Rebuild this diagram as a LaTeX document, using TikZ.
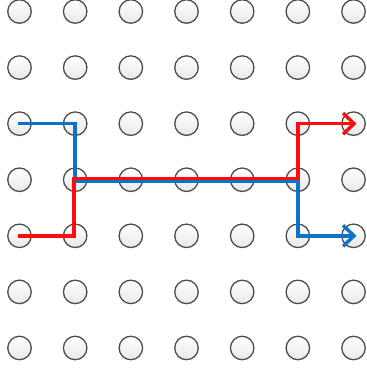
\documentclass[tikz,border=0pt]{standalone}
\usepackage{tikz}
\usetikzlibrary{arrows.meta,positioning,calc}

\begin{document}
\begin{tikzpicture}[x=1pt,y=-1pt,
  peg/.style={circle,draw=black!70,line width=1.3pt,minimum size=23.5pt,inner sep=0pt,
    top color=white,bottom color=black!9},
  route/.style={line width=3.4pt,line join=miter,-{Straight Barb[length=11pt,width=21pt]}}]
\definecolor{rA}{rgb}{1.00,0.05,0.05}
\definecolor{bA}{rgb}{0.05,0.45,0.78}
\useasboundingbox (0,0) rectangle (367,370);
\foreach \i in {0,...,6}
  \foreach \j in {0,...,6}
    \node[peg] (p-\i-\j) at ({19.5+55.67*\i},{11.5+56.08*\j}) {};
\draw[bA,route] ([xshift=-2pt]p-0-2.center) -- (p-1-2.center) -- ([yshift=-2pt]p-1-3.center)
  -- ([yshift=-2pt]p-5-3.center) -- (p-5-4.center) -- ([xshift=3pt]p-6-4.center);
\draw[rA,route] ([xshift=-2pt]p-0-4.center) -- ([xshift=-1pt]p-1-4.center) -- ([xshift=-1pt,yshift=1.5pt]p-1-3.center)
  -- ([yshift=1.5pt]p-5-3.center) -- (p-5-2.center) -- ([xshift=3pt]p-6-2.center);
\end{tikzpicture}
\end{document}
